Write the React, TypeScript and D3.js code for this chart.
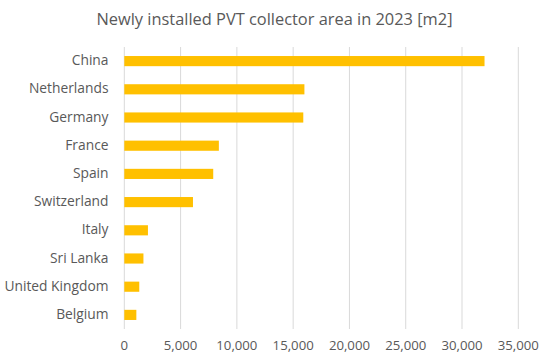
import React from "react";
import * as d3 from "d3";

const countries = ["China", "Netherlands", "Germany", "France", "Spain", "Switzerland", "Italy", "Sri Lanka", "United Kingdom", "Belgium"];
const areas = [32000, 16000, 15900, 8400, 7900, 6100, 2100, 1700, 1330, 1070];
const xTicks = [0, 5000, 10000, 15000, 20000, 25000, 30000, 35000];
const title = "Newly installed PVT collector area in 2023 [m2]";

const W = 549, H = 357;
const FONT = "'Open Sans', Lato, sans-serif";

export default function App() {
  const x = d3.scaleLinear().domain([0, 35000]).range([124.3, 518.3]);
  const y = d3.scaleBand().domain(countries).range([47, 329]).paddingInner(0.64).paddingOuter(0.32);
  const fmt = d3.format(",");
  return (
    <svg width={W} height={H} style={{ position: "absolute", left: 0, top: 0, background: "#fff" }}>
      <text x={274.5} y={24.5} textAnchor="middle" fontFamily={FONT} fontSize={16.4} fill="#595959">{title}</text>
      {xTicks.map(t => (
        <g key={t}>
          <line x1={x(t)} x2={x(t)} y1={47} y2={329} stroke="#D9D9D9" strokeWidth={1} />
          <text x={x(t)} y={350} textAnchor="middle" fontFamily={FONT} fontSize={13.2} fill="#595959">{fmt(t)}</text>
        </g>
      ))}
      {countries.map((c, i) => (
        <g key={c}>
          <rect x={x(0)} y={y(c)} width={x(areas[i]) - x(0)} height={y.bandwidth()} fill="#FFC000" />
          <text x={108.5} y={y(c)! + y.bandwidth() / 2} dy="0.3em" textAnchor="end" fontFamily={FONT} fontSize={13.8} fill="#595959">{c}</text>
        </g>
      ))}
    </svg>
  );
}
